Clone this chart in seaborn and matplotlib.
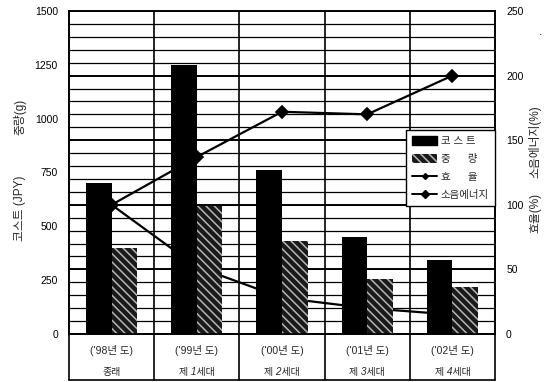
import matplotlib
matplotlib.use("Agg")
import matplotlib.pyplot as plt
import matplotlib.transforms as mtransforms
from matplotlib.patches import Patch
from matplotlib.lines import Line2D
from matplotlib.ticker import MultipleLocator
import seaborn as sns
import pandas as pd

# ---- data ----
years = ["('98년 도)", "('99년 도)", "('00년 도)", "('01년 도)", "('02년 도)"]
generations = ["종래", "제 1세대", "제 2세대", "제 3세대", "제 4세대"]
cost = [700, 1250, 760, 450, 345]          # 코스트 (JPY)
weight = [400, 595, 432, 255, 218]         # 중량 (g)
efficiency = [100, 137, 172, 170, 200]     # 효율 (%)
noise_energy = [100, 52, 28, 20, 15]       # 소음에너지 (%)

bar_names = ["코스트", "중량"]
cats = [f"{y}\n{g}" for y, g in zip(years, generations)]

bars = pd.DataFrame({
    "cat": cats * 2,
    "series": [bar_names[0]] * len(cats) + [bar_names[1]] * len(cats),
    "value": cost + weight,
})
lines_eff = pd.DataFrame({"cat": cats, "value": efficiency})
lines_noise = pd.DataFrame({"cat": cats, "value": noise_energy})

sns.set_theme(style="white")
plt.rcParams["font.family"] = ["Liberation Sans", "Noto Sans CJK KR", "DejaVu Sans"]
plt.rcParams["hatch.linewidth"] = 1.1

fig = plt.figure(figsize=(5.53, 3.82), dpi=100)
ax = fig.add_axes([69 / 553, 48 / 382, 426 / 553, 323 / 382])   # percent scale (right)

# percentage lines on the bottom layer
sns.pointplot(data=lines_noise, x="cat", y="value", ax=ax, color="black",
              markers="o", markersize=3, linewidth=1.6, errorbar=None)
sns.pointplot(data=lines_eff, x="cat", y="value", ax=ax, color="black",
              markers="D", markersize=6, linewidth=1.6, errorbar=None)
ax.set_ylim(0, 250)

# bars on a twin axis above the lines
axb = ax.twinx()
sns.barplot(data=bars, x="cat", y="value", hue="series", ax=axb,
            palette=["black", "#1a1a1a"], width=0.6, legend=False,
            saturation=1, errorbar=None)
axb.set_ylim(0, 1500)

# left scale for the bars, right scale for the percentages
ax.yaxis.tick_right()
ax.yaxis.set_major_locator(MultipleLocator(50))
ax.yaxis.set_minor_locator(MultipleLocator(10))
axb.yaxis.tick_left()
axb.yaxis.set_major_locator(MultipleLocator(250))

n = len(cats)
for i, p in enumerate(axb.patches[:2 * n]):
    if i >= n:
        p.set_hatch("\\\\\\\\")
        p.set_edgecolor("#b5b5b5")
        p.set_linewidth(0)
    else:
        p.set_edgecolor("black")
        p.set_linewidth(0)

for a in (ax, axb):
    a.set_xlim(-0.5, n - 0.5)
    a.set_xlabel("")
    a.set_ylabel("")
    a.set_xticks(range(n))
    a.set_xticklabels([])
    a.tick_params(axis="both", which="both", length=0, labelsize=7.5,
                  colors="black", pad=8)
    for s in a.spines.values():
        s.set_color("black")
        s.set_linewidth(1.2)

# grid: fine horizontal rules, category separators
ax.set_axisbelow(True)
ax.set_xticks([k + 0.5 for k in range(n - 1)], minor=True)
ax.grid(axis="y", which="minor", color="black", linewidth=0.9)
ax.grid(axis="y", which="major", color="black", linewidth=1.4)
ax.grid(axis="x", which="minor", color="black", linewidth=1.2)

# category table under the plot
trans = mtransforms.blended_transform_factory(ax.transData, ax.transAxes)
table_bottom = -0.142
for k in range(n + 1):
    ax.plot([k - 0.5, k - 0.5], [0, table_bottom], transform=trans,
            color="black", linewidth=1.2, clip_on=False)
ax.plot([-0.5, n - 0.5], [table_bottom, table_bottom], transform=trans,
        color="black", linewidth=1.2, clip_on=False)
for k, (y, g) in enumerate(zip(years, generations)):
    ax.text(k, -0.05, y, transform=trans, ha="center", va="center", fontsize=7.5)
    ax.text(k, -0.118, g, transform=trans, ha="center", va="center", fontsize=7.2,
            style="italic")

# axis titles
fig.text(20 / 553, 1 - 117 / 382, "중량(g)", rotation=90, ha="center", va="center",
         fontsize=8.5)
fig.text(20 / 553, 1 - 208 / 382, "코스트 (JPY)", rotation=90, ha="center",
         va="center", fontsize=8.5)
fig.text(535 / 553, 1 - 142 / 382, "소음에너지(%)", rotation=90, ha="center",
         va="center", fontsize=8.5)
fig.text(535 / 553, 1 - 213 / 382, "효율(%)", rotation=90, ha="center",
         va="center", fontsize=8.5)
fig.text(541 / 553, 1 - 32 / 382, ".", ha="center", va="center", fontsize=9)

# legend
handles = [
    Patch(facecolor="black", edgecolor="black"),
    Patch(facecolor="#1a1a1a", edgecolor="#b5b5b5", hatch="\\\\\\\\", linewidth=0),
    Line2D([], [], color="black", marker="D", markersize=3, linewidth=1.4),
    Line2D([], [], color="black", marker="D", markersize=4, linewidth=1.4),
]
labels = ["코 스 트", "중      량", "효      율", "소음에너지"]
leg = axb.legend(handles, labels, loc="upper right", bbox_to_anchor=(1.0, 0.632),
                 borderaxespad=0, frameon=True, fancybox=False, fontsize=7.5,
                 handlelength=2.4, handleheight=0.9, labelspacing=0.75,
                 handletextpad=0.3, borderpad=0.6)
leg.get_frame().set_edgecolor("black")
leg.get_frame().set_linewidth(1.0)
leg.get_frame().set_alpha(1)

fig.savefig("out.png", dpi=100)
